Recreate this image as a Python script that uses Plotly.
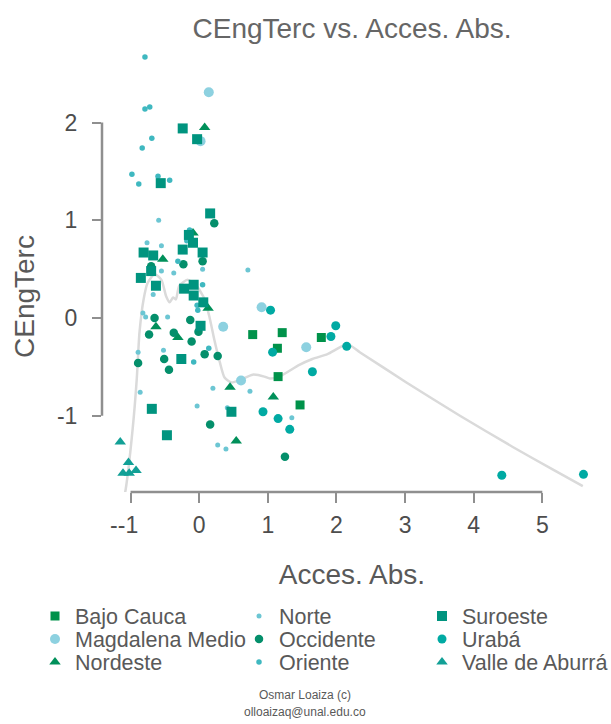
import plotly.graph_objects as go

# ---------------- data ----------------
bajo_cauca_x = [0.78, 1.21, 1.14, 1.15, 1.47, 1.78]
bajo_cauca_y = [-0.17, -0.15, -0.31, -0.60, -0.89, -0.20]

magdalena_x = [0.14, 0.02, 0.35, 0.91, 0.61, 1.56]
magdalena_y = [2.31, 1.81, -0.09, 0.11, -0.64, -0.30]

nordeste_x = [0.08, -0.09, -0.53, -0.63, -0.31, 0.13, 0.45, 1.08, 0.54]
nordeste_y = [1.95, 0.87, 0.60, -0.09, -0.20, 0.10, -0.71, -0.81, -1.26]

norte_x = [-0.59, -0.76, -0.55, -0.55, -0.37, 0.05, 0.71, -0.67, -0.82, -0.78, -0.46,
           -0.52, -0.89, -0.86, 0.20, 0.74, -0.03, 0.41, 1.35, 0.27, 0.39]
norte_y = [1.00, 0.77, 0.74, 0.48, 0.46, 0.50, 0.49, 0.24, 0.05, 0.01, 0.01,
           -0.33, -0.35, -0.76, -0.72, -0.75, -0.90, -0.92, -1.02, -1.30, -1.34]

occidente_x = [0.22, 0.05, -0.70, -0.23, -0.65, -0.13, -0.73, -0.37, -0.11, -0.01,
               0.08, 0.27, -0.89, -0.51, -0.44, 0.16, 1.25]
occidente_y = [0.97, 0.58, 0.53, 0.55, 0.00, -0.02, -0.17, -0.15, -0.24, -0.14,
               -0.37, -0.39, -0.46, -0.42, -0.53, -1.09, -1.42]

oriente_x = [-0.79, -0.79, -0.72, -0.69, -0.83, -0.98, -0.88, -0.60, -0.43,
             -0.14, -0.18, -0.31, 0.05, -0.03, -0.02, 0.14, -0.08]
oriente_y = [2.67, 2.14, 2.16, 1.84, 1.74, 1.47, 1.37, 1.45, 1.41,
             0.90, 0.79, 0.58, 0.34, 0.13, 0.08, -0.31, -0.45]

suroeste_x = [-0.24, -0.03, -0.56, 0.16, -0.15, -0.09, -0.81, -0.67, -0.24, 0.05, -0.70,
              -0.85, -0.63, -0.22, -0.08, -0.08, 0.06, 0.02, -0.26, -0.69, 0.47, -0.47]
suroeste_y = [1.94, 1.83, 1.38, 1.07, 0.85, 0.77, 0.67, 0.64, 0.70, 0.67, 0.48,
              0.41, 0.33, 0.30, 0.34, 0.23, 0.16, -0.08, -0.42, -0.93, -0.96, -1.20]

uraba_x = [1.04, 1.07, 0.93, 1.15, 1.32, 1.65, 1.92, 1.99, 2.15, 4.41, 5.60]
uraba_y = [0.08, -0.35, -0.96, -1.03, -1.14, -0.55, -0.19, -0.08, -0.29, -1.61, -1.60]

valle_x = [-1.15, -1.03, -1.11, -1.02, -0.92]
valle_y = [-1.27, -1.48, -1.59, -1.59, -1.56]

# smoothed trend
smooth_x = [-1.13, -1.07, -0.97, -0.91, -0.87, -0.81, -0.75, -0.65, -0.55, -0.48, -0.43,
            -0.38, -0.34, -0.29, -0.17, -0.04, 0.08, 0.15, 0.22, 0.30, 0.37, 0.47,
            0.61, 0.78, 0.95, 1.03, 1.17, 1.46, 1.65, 1.87, 2.16, 2.34, 3.02, 3.80,
            4.57, 5.15, 5.59]
smooth_y = [-1.96, -1.75, -1.14, -0.63, -0.15, 0.19, 0.36, 0.45, 0.39, 0.22, 0.16,
            0.21, 0.19, 0.33, 0.39, 0.33, 0.19, 0.01, -0.22, -0.45, -0.61, -0.66,
            -0.63, -0.58, -0.60, -0.62, -0.60, -0.48, -0.42, -0.37, -0.27, -0.35, -0.66, -1.00,
            -1.32, -1.55, -1.72]

x_ticks = [-1, 0, 1, 2, 3, 4, 5]
x_ticktext = ["--1\u00a0\u00a0", "0", "1", "2", "3", "4", "5"]
y_ticks = [-1, 0, 1, 2]
y_ticktext = ["-1", "0", "1", "2"]

FONT = "Liberation Sans, Arial, sans-serif"
GREY_TXT = "#595959"
AXIS_GREY = "#8f8f8f"

series = [
    # name, x, y, symbol, size, color, (legend column, legend row)
    ("Bajo Cauca", bajo_cauca_x, bajo_cauca_y, "square", 9, "#00924A", (0, 0)),
    ("Magdalena Medio", magdalena_x, magdalena_y, "circle", 10, "#8DD1E0", (0, 1)),
    ("Nordeste", nordeste_x, nordeste_y, "triangle-up", 10, "#00905A", (0, 2)),
    ("Norte", norte_x, norte_y, "circle", 5, "#6CC6D3", (1, 0)),
    ("Occidente", occidente_x, occidente_y, "circle", 8.5, "#048F6B", (1, 1)),
    ("Oriente", oriente_x, oriente_y, "circle", 5.5, "#3FB8C0", (1, 2)),
    ("Suroeste", suroeste_x, suroeste_y, "square", 10, "#00947F", (2, 0)),
    ("Urabá", uraba_x, uraba_y, "circle", 9, "#00AAA3", (2, 1)),
    ("Valle de Aburrá", valle_x, valle_y, "triangle-up", 10, "#12A096", (2, 2)),
]

# plot area: left 102, right 602, top 40, bottom 492 (px)
W, H = 611, 724
L, R, T, B = 102, 602, 40, 492
LEG_COL_PX = [35, 239, 422]   # legend box left edges (text starts 40px further right)
LEG_ROW_PX = [616, 639, 662]  # legend row centres


def px_x(px):
    return (px - L) / (R - L)


def px_y(py):
    return (B - py) / (B - T)


fig = go.Figure()

fig.add_trace(go.Scatter(x=smooth_x, y=smooth_y, mode="lines", showlegend=False,
                         line=dict(color="#dadada", width=2.5, shape="spline", smoothing=0.6),
                         hoverinfo="skip"))

legends = {}
for i, (name, xs, ys, sym, size, col, (c, r)) in enumerate(series):
    key = "legend" if i == 0 else f"legend{i + 1}"
    fig.add_trace(go.Scatter(x=xs, y=ys, mode="markers", name=name, legend=key,
                             marker=dict(symbol=sym, size=size, color=col,
                                         line=dict(width=0))))
    legends[key] = dict(xref="container", yref="container",
                        x=LEG_COL_PX[c] / W, y=1 - LEG_ROW_PX[r] / H,
                        xanchor="left", yanchor="middle",
                        font=dict(size=21.5, color=GREY_TXT, family=FONT),
                        bgcolor="rgba(0,0,0,0)", borderwidth=0)

fig.update_layout(
    width=W, height=H,
    margin=dict(l=L, r=W - R, t=T, b=H - B, autoexpand=False),
    paper_bgcolor="white", plot_bgcolor="white",
    font=dict(family=FONT, color=GREY_TXT),
    title=dict(text="CEngTerc vs. Acces. Abs.", x=0.5, xref="paper", xanchor="center",
               y=1 - 28 / H, yref="container", yanchor="middle",
               font=dict(size=28, color="#666666", family=FONT)),
    xaxis=dict(range=[-1.416, 5.87], tickvals=x_ticks, ticktext=x_ticktext,
               showgrid=False, zeroline=False, showline=False,
               ticks="outside", ticklen=10, tickwidth=2, tickcolor=AXIS_GREY,
               tickfont=dict(size=23, color="#4d4d4d"), ticklabelstandoff=2,
               tickangle=0,
               title=dict(text="Acces. Abs.", font=dict(size=28, color=GREY_TXT), standoff=27)),
    yaxis=dict(range=[-1.781, 2.845], tickvals=y_ticks, ticktext=y_ticktext,
               showgrid=False, zeroline=False, showline=False,
               ticks="outside", ticklen=9, tickwidth=2, tickcolor=AXIS_GREY,
               tickfont=dict(size=23, color="#4d4d4d"), ticklabelstandoff=10),
    **legends,
)

# y-axis title (placed where the reference draws it)
fig.add_annotation(text="CEngTerc", textangle=-90, xref="paper", yref="paper",
                   x=px_x(24), y=px_y(297), xanchor="center", yanchor="middle",
                   showarrow=False, font=dict(size=28, color=GREY_TXT))

# range-frame axis lines (from first to last tick)
fig.add_shape(type="line", xref="x", yref="paper", x0=x_ticks[0], x1=x_ticks[-1], y0=0, y1=0,
              line=dict(color=AXIS_GREY, width=2.5))
fig.add_shape(type="line", xref="paper", yref="y", x0=0, x1=0, y0=y_ticks[0], y1=y_ticks[-1],
              line=dict(color=AXIS_GREY, width=2.5))

fig.add_annotation(text="Osmar Loaiza (c)", xref="paper", yref="paper",
                   x=px_x(305), y=px_y(695), xanchor="center", yanchor="middle",
                   showarrow=False, font=dict(size=12, color=GREY_TXT))
fig.add_annotation(text="olloaizaq@unal.edu.co", xref="paper", yref="paper",
                   x=px_x(305), y=px_y(712), xanchor="center", yanchor="middle",
                   showarrow=False, font=dict(size=12, color=GREY_TXT))

fig.write_html("out.html")
